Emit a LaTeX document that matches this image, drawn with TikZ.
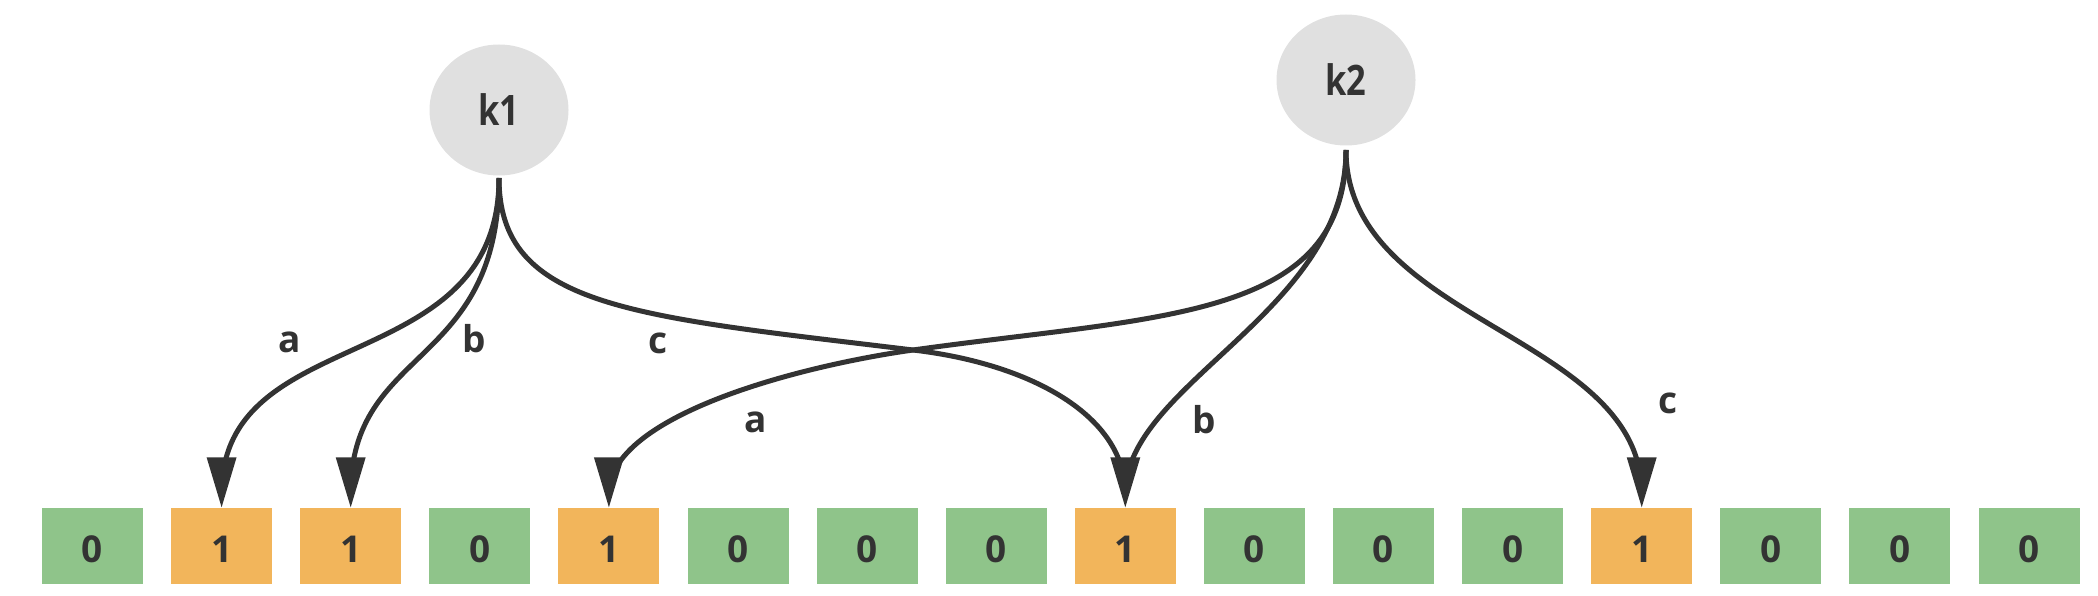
\documentclass[tikz,border=0pt]{standalone}
\usepackage{fontspec}
\setmainfont{Open Sans}
\newfontfamily\kfont{Open Sans}[FakeStretch=0.82]
\usetikzlibrary{shapes.geometric}
\definecolor{boxg}{HTML}{8FC48A}
\definecolor{boxo}{HTML}{F2B55B}
\definecolor{keyc}{HTML}{E0E0E0}
\definecolor{linec}{HTML}{333333}
\definecolor{txtc}{HTML}{333333}
\tikzset{
  keynode/.style={ellipse, fill=keyc, minimum width=139pt, minimum height=131pt, inner sep=0pt,
    text=txtc, font=\kfont\bfseries\fontsize{42}{50}\selectfont},
  bitbox/.style={rectangle, minimum width=101pt, minimum height=76pt, inner sep=0pt,
    text=txtc, text height=34pt, text depth=0pt, font=\bfseries\fontsize{37}{44}\selectfont},
  lbl/.style={inner sep=0pt, text=txtc, font=\bfseries\fontsize{37}{44}\selectfont},
  conn/.style={draw=linec, line width=5pt, shorten >=14pt},
  tiphead/.style={fill=linec}
}
\begin{document}
\begin{tikzpicture}[x={(1pt,0pt)}, y={(0pt,-1pt)}]
\useasboundingbox (0,0) rectangle (2098,596);
% key nodes
\node[keynode] (k1) at (499,110) {k1};
\node[keynode] (k2) at (1346,80) {k2};
\coordinate (s1) at (499,178);
\coordinate (s2) at (1346,150);
% bit array
\foreach \v [count=\i from 0] in {0,1,1,0,1,0,0,0,1,0,0,0,1,0,0,0} {
  \ifnum\v=1 \def\fc{boxo}\else\def\fc{boxg}\fi
  \node[bitbox, fill=\fc] (b\i) at ({92.5+129.1*\i},545.5) {\v};
}
% intermediate points
\coordinate (m1) at (913,350);
\coordinate (m2) at (913,350);
% k1 connectors
\draw[conn] (s1) .. controls (499,380) and (221.6,320) .. (b1.north);
\draw[conn] (s1) .. controls (499,370) and (350.7,345) .. (b2.north);
\draw[conn] (s1) .. controls (499,308) and (633,316) .. (m1)
                 .. controls (1033,364) and (1125.3,417) .. (b8.north);
% k2 connectors
\draw[conn] (s2) .. controls (1346,320) and (1163,315) .. (m2)
                 .. controls (793,367) and (608.9,417) .. (b4.north);
\draw[conn] (s2) .. controls (1346,312) and (1125.3,384) .. (b8.north);
\draw[conn] (s2) .. controls (1346,323) and (1641.7,334) .. (b12.north);
% arrow heads
\foreach \t in {b1,b2,b4,b8,b12}
  \fill[tiphead] (\t.north) -- ++(-15,-50) -- ++(30,0) -- cycle;
% labels
\node[lbl] (la1) at (289.5,342.5) {a};
\node[lbl] (lb1) at (474,339) {b};
\node[lbl] (lc1) at (658,343) {c};
\node[lbl] (la2) at (756,422) {a};
\node[lbl] (lb2) at (1204,420) {b};
\node[lbl] (lc2) at (1668,403) {c};
\end{tikzpicture}
\end{document}
